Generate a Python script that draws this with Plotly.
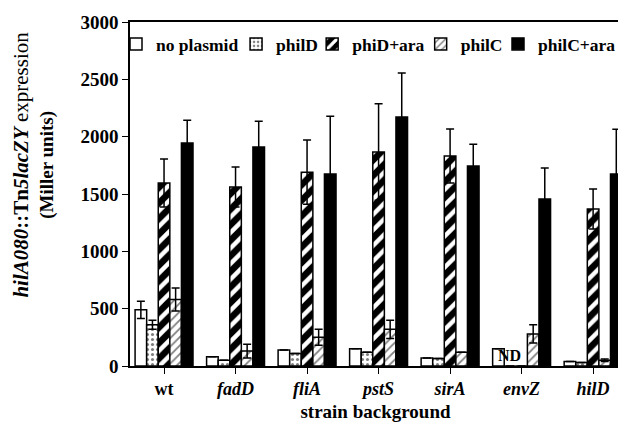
import plotly.graph_objects as go

strains = ["wt", "fadD", "fliA", "pstS", "sirA", "envZ", "hilD"]
tick_text = ["wt", "<i>fadD</i>", "<i>fliA</i>", "<i>pstS</i>", "<i>sirA</i>", "<i>envZ</i>", "<i>hilD</i>"]

no_plasmid = [490, 80, 140, 150, 70, 150, 40]
no_plasmid_err = [75, 0, 0, 0, 0, 0, 0]
philD = [360, 50, 110, 120, 65, 0, 30]
philD_err = [40, 0, 0, 0, 0, 0, 0]
phiD_ara = [1596, 1561, 1690, 1866, 1831, 0, 1369]
phiD_ara_err = [210, 175, 280, 420, 235, 0, 175]
philC = [580, 130, 250, 320, 120, 280, 50]
philC_err = [100, 60, 70, 80, 0, 80, 10]
philC_ara = [1944, 1910, 1674, 2171, 1744, 1456, 1674]
philC_ara_err = [200, 225, 505, 385, 190, 270, 390]

series = [
    ("no plasmid", no_plasmid, no_plasmid_err, dict(color="white")),
    ("philD", philD, philD_err, dict(color="white", pattern=dict(shape=".", fgcolor="black", bgcolor="white", size=5, solidity=0.3))),
    ("phiD+ara", phiD_ara, phiD_ara_err, dict(color="black", pattern=dict(shape="/", fgcolor="white", bgcolor="black", size=11, solidity=0.4, fillmode="replace"))),
    ("philC", philC, philC_err, dict(color="white", pattern=dict(shape="/", fgcolor="black", bgcolor="white", size=6, solidity=0.3))),
    ("philC+ara", philC_ara, philC_ara_err, dict(color="black")),
]
legend_ids = ["legend", "legend2", "legend3", "legend4", "legend5"]
legend_x = [-0.0285, 0.216, 0.371, 0.592, 0.7495]

fig = go.Figure()
for (name, vals, errs, mk), lid in zip(series, legend_ids):
    mk = dict(mk)
    mk["line"] = dict(color="black", width=1.5)
    fig.add_trace(go.Bar(
        x=strains, y=vals, name=name, marker=mk, legend=lid,
        error_y=dict(type="data", array=errs, color="black", thickness=1.5, width=4, visible=True),
    ))

fig.add_annotation(x="envZ", y=0, text="ND", showarrow=False, xshift=-12,
                   yanchor="bottom", yshift=0, font=dict(size=16, family="Liberation Serif", color="black"))

fig.add_annotation(
    xref="paper", yref="paper", x=-0.1965, y=0.584, xanchor="center", yanchor="middle",
    textangle=-90, showarrow=False,
    text="<span style='font-size:21px'><i>hilA080</i>::Tn<i>5lacZY</i> <span style='font-weight:normal'>expression</span></span><br>(Miller units)",
    font=dict(size=19, family="Liberation Serif", color="black"),
)

# page body has an 8px default margin, so the figure is sized to fit the window
fig.update_layout(
    width=618, height=424,
    margin=dict(l=122, r=5, t=14, b=66),
    plot_bgcolor="white", paper_bgcolor="white",
    font=dict(family="Liberation Serif", size=16, color="black", weight="bold"),
    barmode="group", bargap=0.19, bargroupgap=0,
    showlegend=True,
)
for lid, lx in zip(legend_ids, legend_x):
    fig.update_layout({lid: dict(orientation="h", x=lx, y=0.936, xanchor="left", yanchor="middle",
                                 font=dict(size=17.5), itemwidth=30, borderwidth=0,
                                 bgcolor="rgba(0,0,0,0)")})

fig.update_xaxes(
    range=[-0.476, 6.39], tickvals=strains, ticktext=tick_text, tickfont=dict(size=18),
    showline=True, linecolor="black", linewidth=1.5, mirror=True, automargin=False,
    ticks="outside", ticklen=6, tickcolor="black",
    title=dict(text="strain background", font=dict(size=19), standoff=6),
)
fig.update_yaxes(
    range=[0, 3000], dtick=500, tickfont=dict(size=19),
    showline=True, linecolor="black", linewidth=1.5, mirror=True, automargin=False,
    ticks="outside", ticklen=6, tickcolor="black", showgrid=False, zeroline=False,
)
fig.write_html("out.html")
